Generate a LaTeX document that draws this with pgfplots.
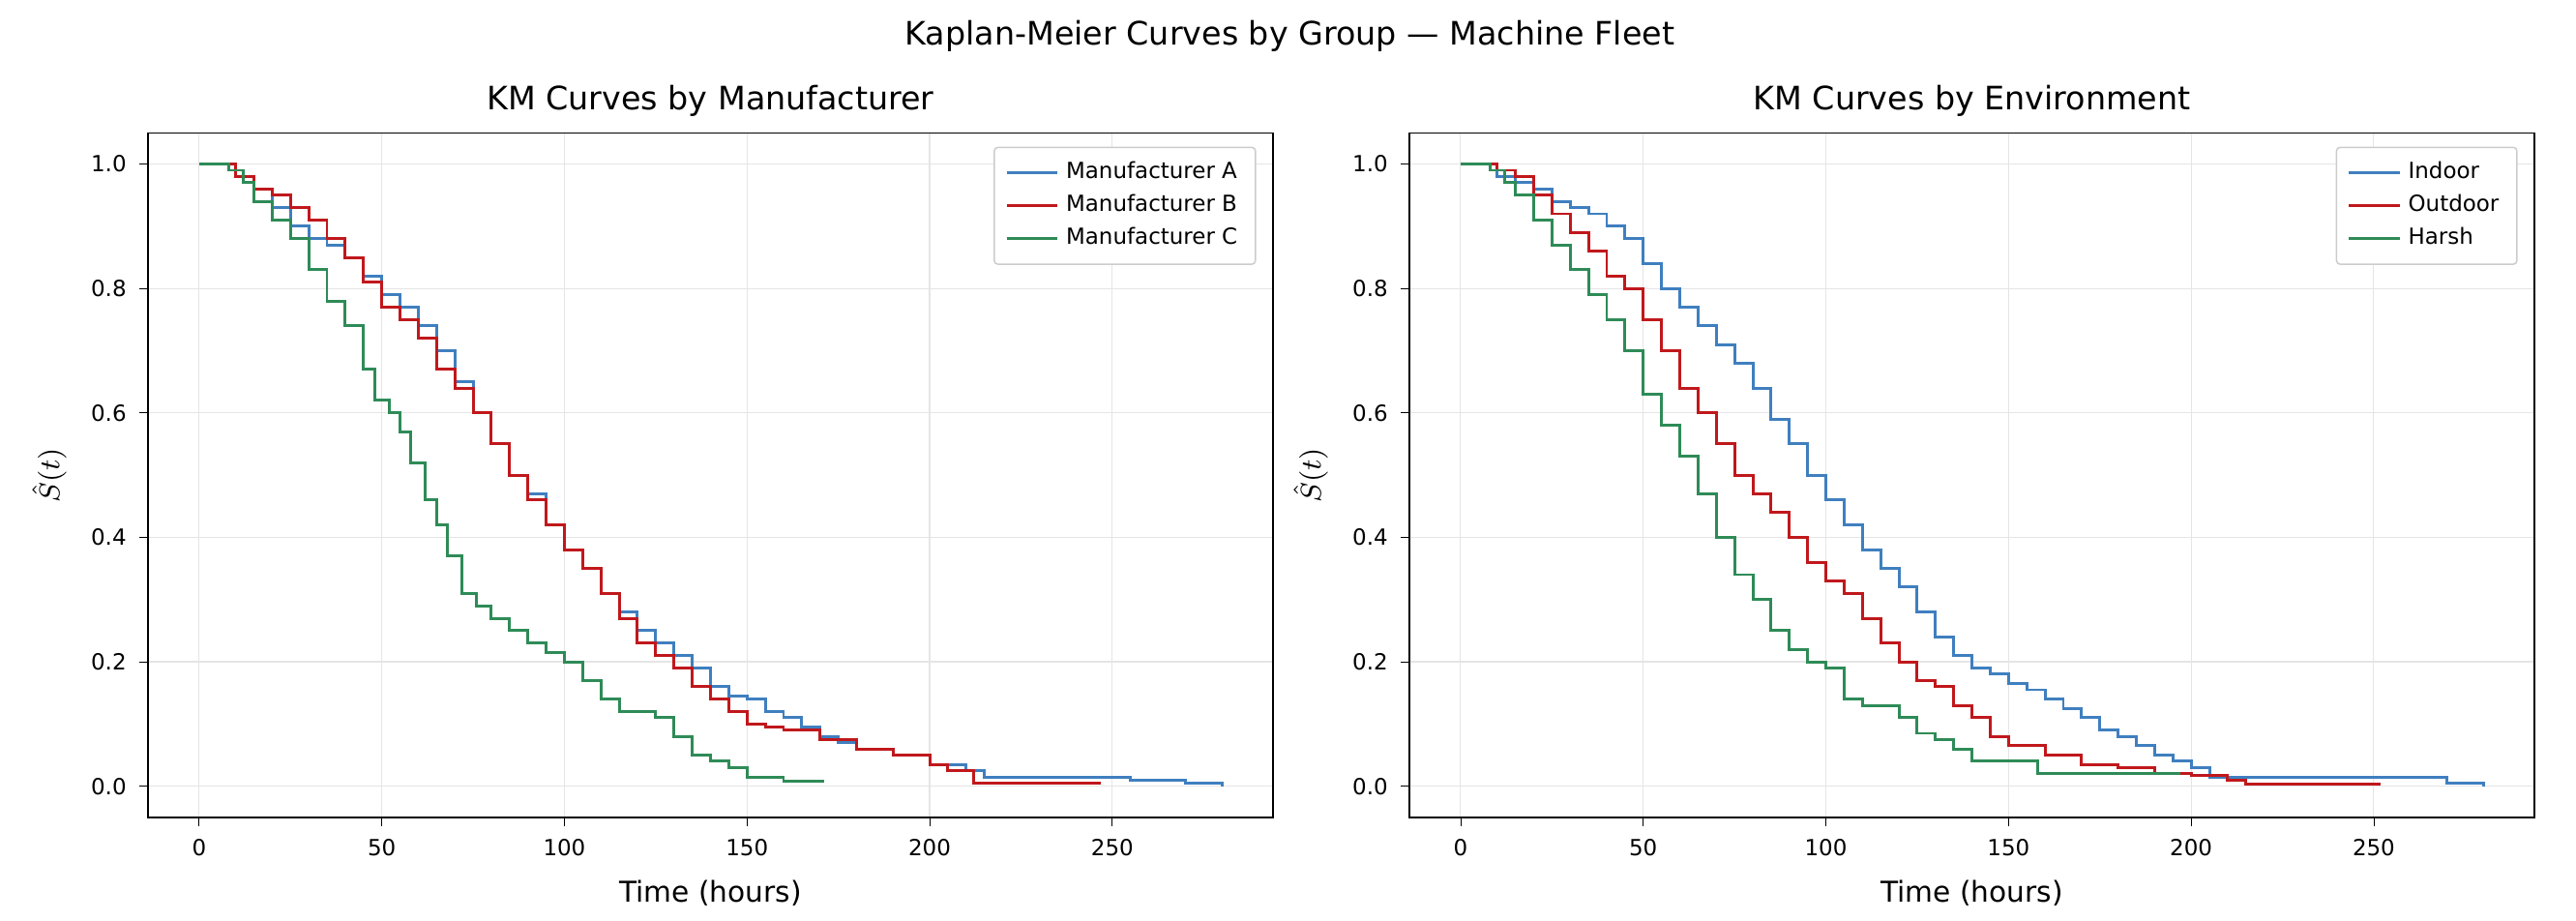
\documentclass[border=0pt]{standalone}
\usepackage{pgfplots}
\pgfplotsset{compat=1.18}
\usepackage{fontspec}
\setmainfont{DejaVu Sans}
\definecolor{cA}{HTML}{3F7FBF}
\definecolor{cB}{HTML}{C0181C}
\definecolor{cC}{HTML}{2E8B57}
\pgfplotsset{kmstyle/.style={
  scale only axis, width=314pt, height=191pt,
  xmin=-14, xmax=294, ymin=-0.05, ymax=1.05,
  xtick={0,50,...,250}, ytick={0,0.2,...,1.0},
  yticklabel style={/pgf/number format/.cd,fixed,fixed zerofill,precision=1},
  /pgf/number format/assume math mode=true,
  tick label style={font=\fontsize{6.2}{7}\selectfont},
  label style={font=\fontsize{8}{9}\selectfont},
  title style={font=\fontsize{9}{10}\selectfont, yshift=-5pt},
  grid=major, grid style={gray!20, line width=0.3pt},
  tick style={black}, tick align=outside, major tick length=2.5pt,
  xtick pos=bottom, ytick pos=left,
  xlabel={Time (hours)}, ylabel={$\hat{S}(t)$},
  legend style={font=\fontsize{6.2}{7.5}\selectfont, draw=gray!40, rounded corners=1pt, at={(0.985,0.98)}, anchor=north east, row sep=-1pt},
  legend cell align=left,
  legend image code/.code={\draw[#1] (0cm,0cm) -- (0.5cm,0cm);},
  every axis plot/.append style={const plot, line width=0.8pt, no marks},
}}
\begin{document}
\begin{tikzpicture}
\path (0,0) rectangle (719pt,257pt);
\node at (360pt,247pt) {\fontsize{9}{10}\selectfont Kaplan-Meier Curves by Group — Machine Fleet};
\begin{axis}[kmstyle, at={(41.3pt,28.9pt)}, title={KM Curves by Manufacturer}]
\addplot[cA] coordinates {(0,1)(5,1)(10,0.98)(15,0.96)(20,0.93)(25,0.9)(30,0.88)(35,0.87)(40,0.85)(45,0.82)(50,0.79)(55,0.77)(60,0.74)(65,0.7)(70,0.65)(75,0.6)(80,0.55)(85,0.5)(90,0.47)(95,0.42)(100,0.38)(105,0.35)(110,0.31)(115,0.28)(120,0.25)(125,0.23)(130,0.21)(135,0.19)(140,0.16)(145,0.145)(150,0.14)(155,0.12)(160,0.11)(165,0.095)(170,0.08)(175,0.07)(180,0.06)(190,0.05)(200,0.035)(210,0.025)(215,0.015)(250,0.015)(255,0.01)(270,0.005)(280,0.0)};
\addlegendentry{Manufacturer A}
\addplot[cB] coordinates {(0,1)(10,0.98)(15,0.96)(20,0.95)(25,0.93)(30,0.91)(35,0.88)(40,0.85)(45,0.81)(50,0.77)(55,0.75)(60,0.72)(65,0.67)(70,0.64)(75,0.6)(80,0.55)(85,0.5)(90,0.46)(95,0.42)(100,0.38)(105,0.35)(110,0.31)(115,0.27)(120,0.23)(125,0.21)(130,0.19)(135,0.16)(140,0.14)(145,0.12)(150,0.1)(155,0.095)(160,0.09)(170,0.075)(180,0.06)(190,0.05)(200,0.035)(205,0.025)(212,0.005)(247,0.005)};
\addlegendentry{Manufacturer B}
\addplot[cC] coordinates {(0,1)(8,0.99)(12,0.97)(15,0.94)(20,0.91)(25,0.88)(30,0.83)(35,0.78)(40,0.74)(45,0.67)(48,0.62)(52,0.6)(55,0.57)(58,0.52)(62,0.46)(65,0.42)(68,0.37)(72,0.31)(76,0.29)(80,0.27)(85,0.25)(90,0.23)(95,0.215)(100,0.2)(105,0.17)(110,0.14)(115,0.12)(125,0.11)(130,0.08)(135,0.05)(140,0.04)(145,0.03)(150,0.015)(160,0.008)(171,0.008)};
\addlegendentry{Manufacturer C}
\end{axis}
\begin{axis}[kmstyle, at={(393.4pt,28.9pt)}, title={KM Curves by Environment}]
\addplot[cA] coordinates {(0,1)(5,1)(10,0.98)(15,0.97)(20,0.96)(25,0.94)(30,0.93)(35,0.92)(40,0.9)(45,0.88)(50,0.84)(55,0.8)(60,0.77)(65,0.74)(70,0.71)(75,0.68)(80,0.64)(85,0.59)(90,0.55)(95,0.5)(100,0.46)(105,0.42)(110,0.38)(115,0.35)(120,0.32)(125,0.28)(130,0.24)(135,0.21)(140,0.19)(145,0.18)(150,0.165)(155,0.155)(160,0.14)(165,0.125)(170,0.11)(175,0.09)(180,0.08)(185,0.065)(190,0.05)(195,0.04)(200,0.03)(205,0.015)(265,0.015)(270,0.005)(280,0.0)};
\addlegendentry{Indoor}
\addplot[cB] coordinates {(0,1)(10,0.99)(15,0.98)(20,0.95)(25,0.92)(30,0.89)(35,0.86)(40,0.82)(45,0.8)(50,0.75)(55,0.7)(60,0.64)(65,0.6)(70,0.55)(75,0.5)(80,0.47)(85,0.44)(90,0.4)(95,0.36)(100,0.33)(105,0.31)(110,0.27)(115,0.23)(120,0.2)(125,0.17)(130,0.16)(135,0.13)(140,0.11)(145,0.08)(150,0.065)(160,0.05)(170,0.035)(180,0.03)(190,0.02)(200,0.018)(210,0.01)(215,0.003)(252,0.003)};
\addlegendentry{Outdoor}
\addplot[cC] coordinates {(0,1)(8,0.99)(12,0.97)(15,0.95)(20,0.91)(25,0.87)(30,0.83)(35,0.79)(40,0.75)(45,0.7)(50,0.63)(55,0.58)(60,0.53)(65,0.47)(70,0.4)(75,0.34)(80,0.3)(85,0.25)(90,0.22)(95,0.2)(100,0.19)(105,0.14)(110,0.13)(115,0.13)(120,0.11)(125,0.085)(130,0.075)(135,0.06)(140,0.04)(155,0.04)(158,0.02)(197,0.02)};
\addlegendentry{Harsh}
\end{axis}
\end{tikzpicture}
\end{document}
